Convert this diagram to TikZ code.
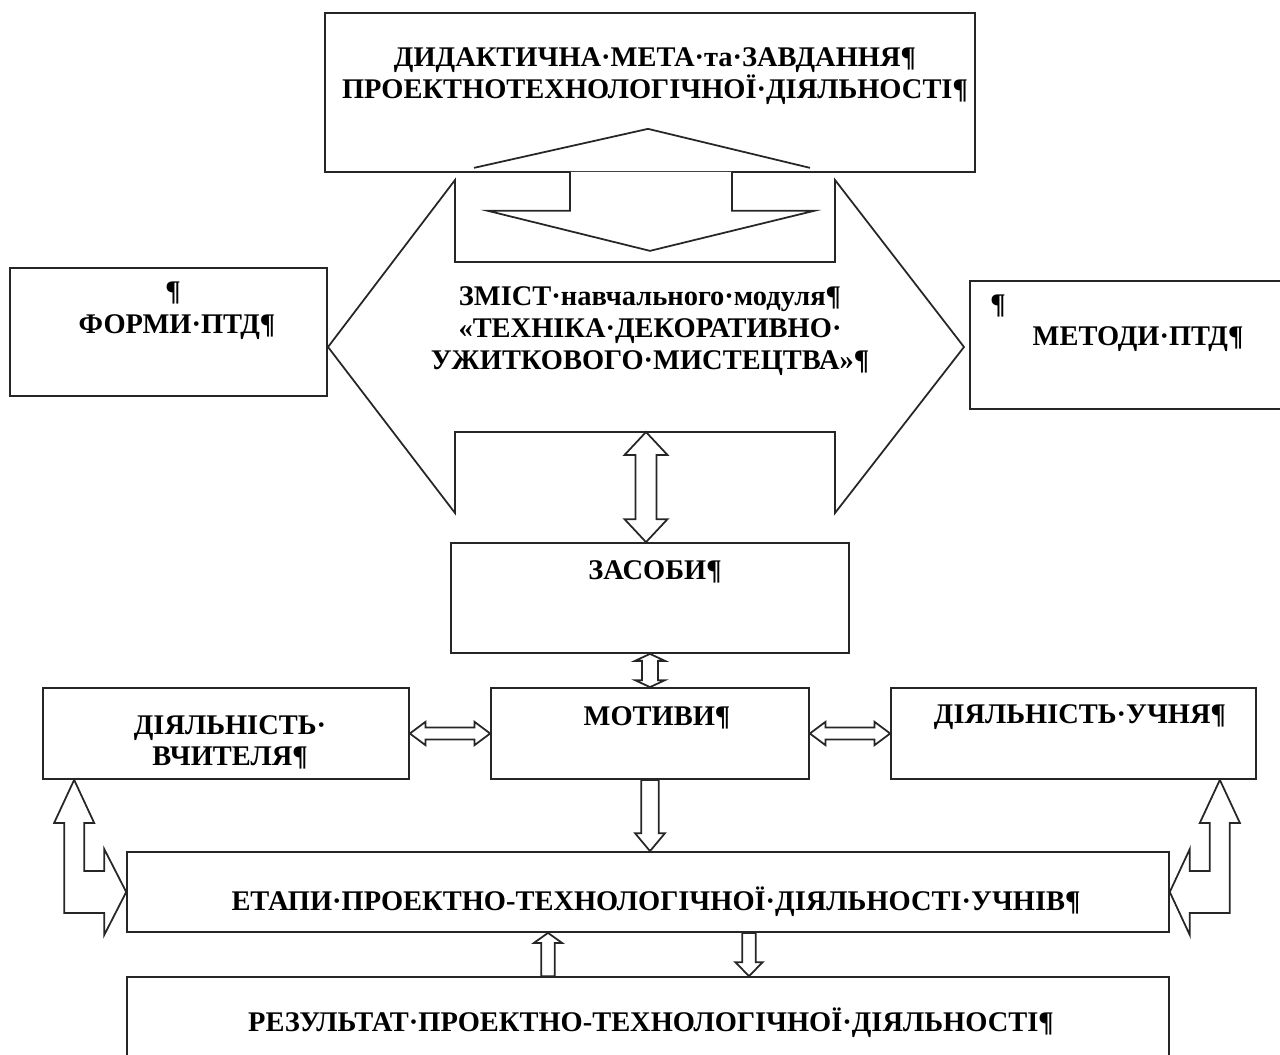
\documentclass[tikz,border=0pt]{standalone}
\usepackage{fontspec}
\setmainfont{Liberation Serif}
\usetikzlibrary{calc}

% hollow block arrows
% single: tail, tip, head half-width, shaft half-width, head length
\newcommand\blkarrow[5]{%
  \draw[blk] ($(#1)+({-(#4)},0)$) -- ($(#2)+({-(#4)},{-(#5)})$) -- ++({#4-#3},0) -- (#2)
    -- ++(#3,{-(#5)}) -- ++({#4-#3},0) -- ($(#1)+(#4,0)$) -- cycle;}
% vertical double: top tip, bottom tip, head half-width, shaft half-width, head length
\newcommand\vdblarrow[5]{%
  \draw[blk] (#1) -- ++(#3,#5) -- ++({#4-#3},0) -- ($(#2)+(#4,{-(#5)})$) -- ++({#3-#4},0)
    -- (#2) -- ++({-(#3)},{-(#5)}) -- ++({#3-#4},0) -- ($(#1)+({-(#4)},#5)$) -- ++({#4-#3},0) -- cycle;}
% horizontal double: left tip, right tip, head half-width, shaft half-width, head length
\newcommand\hdblarrow[5]{%
  \draw[blk] (#1) -- ++(#5,{-(#3)}) -- ++(0,{#3-#4}) -- ($(#2)+({-(#5)},{-(#4)})$) -- ++(0,{#4-#3})
    -- (#2) -- ++({-(#5)},#3) -- ++(0,{#4-#3}) -- ($(#1)+(#5,#4)$) -- ++(0,{#3-#4}) -- cycle;}

\begin{document}
\begin{tikzpicture}[x=0.02cm,y=-0.02cm,line width=1pt,
  font=\fontsize{16.2}{18.3}\selectfont\bfseries,
  box/.style={draw=black!85,fill=white,inner sep=0pt},
  txt/.style={align=center,inner sep=0pt},
  blk/.style={draw=black!85,fill=white,line join=miter}]
  \useasboundingbox (0,0) rectangle (1280,1054);
  \clip (0,0) rectangle (1280,1054);
  % content: big left-right arrow
  \draw[blk] (328,347) -- (455,180) -- (455,262) -- (835,262) -- (835,180) -- (964,347)
    -- (835,513) -- (835,432) -- (455,432) -- (455,513) -- cycle;
  \node[txt] (zmist) at (650,331) {ЗМІСТ·навчального·модуля¶\\«ТЕХНІКА·ДЕКОРАТИВНО·\\УЖИТКОВОГО·МИСТЕЦТВА»¶};
  % boxes
  \node[box,minimum width=13cm,minimum height=3.18cm]  (meta)    at (650,92.5)   {};
  \node[box,minimum width=6.34cm,minimum height=2.56cm] (formy)   at (168.5,332)  {};
  \node[box,minimum width=6.4cm,minimum height=2.56cm]  (metody)  at (1130,345)   {};
  \node[box,minimum width=7.96cm,minimum height=2.2cm]  (zasoby)  at (650,598)    {};
  \node[box,minimum width=6.36cm,minimum height=1.82cm] (motyvy)  at (650,733.5)  {};
  \node[box,minimum width=7.32cm,minimum height=1.82cm] (vchytel) at (226,733.5)  {};
  \node[box,minimum width=7.3cm,minimum height=1.82cm]  (uchen)   at (1073.5,733.5) {};
  \node[box,minimum width=20.84cm,minimum height=1.6cm] (etapy)   at (648,892)    {};
  \node[box,minimum width=20.84cm,minimum height=2.06cm] (rezult) at (648,1028.5) {};
  % texts
  \node[txt] (meta-t)    at (655,76)   {ДИДАКТИЧНА·МЕТА·та·ЗАВДАННЯ¶\\ПРОЕКТНОТЕХНОЛОГІЧНОЇ·ДІЯЛЬНОСТІ¶};
  \node[txt] (formy-p)   at (173,293)  {¶};
  \node[txt] (formy-t)   at (177,327)  {ФОРМИ·ПТД¶};
  \node[txt] (metody-p)  at (998,306)  {¶};
  \node[txt] (metody-t)  at (1138,339) {МЕТОДИ·ПТД¶};
  \node[txt] (zasoby-t)  at (655,572)  {ЗАСОБИ¶};
  \node[txt] (motyvy-t)  at (657,718)  {МОТИВИ¶};
  \node[txt] (vchytel-t) at (230,742)  {ДІЯЛЬНІСТЬ·\\[-0.5pt]ВЧИТЕЛЯ¶};
  \node[txt] (uchen-t)   at (1080,717) {ДІЯЛЬНІСТЬ·УЧНЯ¶};
  \node[txt] (etapy-t)   at (656,902)  {ЕТАПИ·ПРОЕКТНО-ТЕХНОЛОГІЧНОЇ·ДІЯЛЬНОСТІ·УЧНІВ¶};
  \node[txt] (rezult-t)  at (651,1023) {РЕЗУЛЬТАТ·ПРОЕКТНО-ТЕХНОЛОГІЧНОЇ·ДІЯЛЬНОСТІ¶};
  % goal -> content
  \draw[blk] ($(meta.south)+(-80,-1)$) -- ++(0,39) -- ++(-82,0) -- ($(meta.south)+(0,78)$)
    -- ++(164,-40) -- ++(-82,0) -- ($(meta.south)+(82,-1)$);
  \draw[black!85] ($(meta.south)+(-176,-5)$) -- ++(174,-39) -- ++(162,39);
  % vertical links
  \coordinate (zmb) at (646,432);
  \vdblarrow{zmb}{zmb |- zasoby.north}{21.5}{10.5}{23}
  \vdblarrow{zasoby.south}{motyvy.north}{15}{8}{7}
  \blkarrow{motyvy.south}{motyvy.south |- etapy.north}{15}{8.7}{18}
  \coordinate (up) at ($(rezult.north)+(-100,0)$);
  \coordinate (dn) at ($(etapy.south)+(101,0)$);
  \blkarrow{up}{up |- etapy.south}{14}{6.7}{-10}
  \blkarrow{dn}{dn |- rezult.north}{13.7}{6.7}{14}
  % horizontal links
  \hdblarrow{vchytel.east}{motyvy.west}{11.7}{6}{15.7}
  \hdblarrow{motyvy.east}{uchen.west}{11.7}{6}{15.7}
  % bent links to the stages
  \coordinate (lt) at ($(vchytel.south west)+(32,0)$);
  \draw[blk] (lt) -- ++(20,43) -- ++(-10,0) |- ($(etapy.west)+(-22,-21)$) -- ++(0,-22) -- (etapy.west)
    -- ++(-22,43) -- ++(0,-22) -| ($(lt)+(-10,43)$) -- ++(-10,0) -- cycle;
  \coordinate (rt) at ($(uchen.south east)+(-37,0)$);
  \draw[blk] (rt) -- ++(-20,43) -- ++(10,0) |- ($(etapy.east)+(20,-21)$) -- ++(0,-22) -- (etapy.east)
    -- ++(20,43) -- ++(0,-22) -| ($(rt)+(10,43)$) -- ++(10,0) -- cycle;
\end{tikzpicture}
\end{document}
